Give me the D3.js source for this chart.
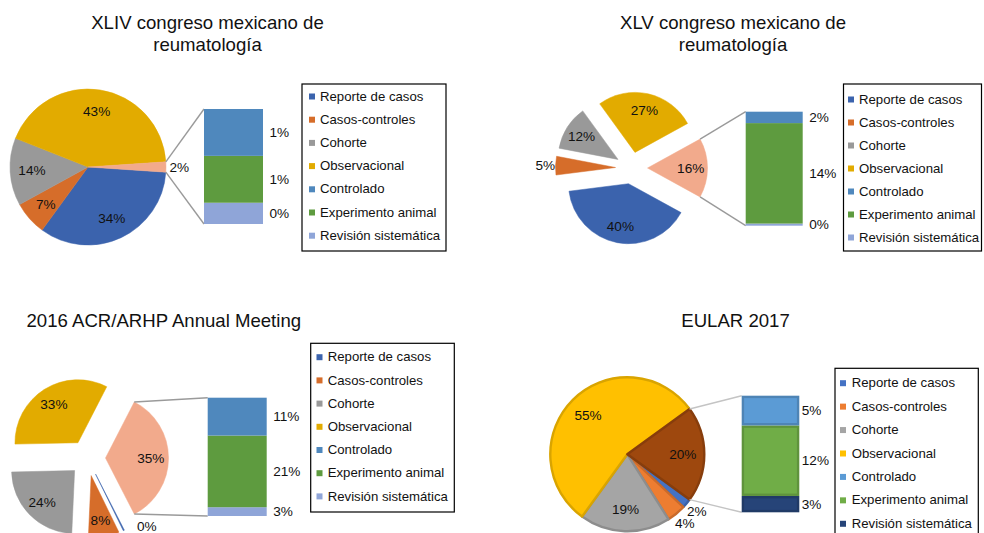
<!DOCTYPE html>
<html>
<head>
<meta charset="utf-8">
<script src="https://cdn.jsdelivr.net/npm/d3@7"></script>
<style>
  html, body { margin: 0; padding: 0; background: #fff; }
  svg { display: block; font-family: "Liberation Sans", Arial, Helvetica, sans-serif; }
</style>
</head>
<body>
<svg id="chart" width="984" height="533"></svg>
<script>
// ---------- DATA ----------
const pieCategories = ["Reporte de casos", "Casos-controles", "Cohorte", "Observacional"];
const barCategories = ["Controlado", "Experimento animal", "Revisión sistemática"];
const legendCategories = pieCategories.concat(barCategories);

const titles = [
  ["XLIV congreso mexicano de", "reumatología"],
  ["XLV congreso mexicano de", "reumatología"],
  ["2016 ACR/ARHP Annual Meeting"],
  ["EULAR 2017"]
];

// pie values (% of total), order = pieCategories
const pieValues1 = [34, 7, 14, 43];
const pieValues2 = [40, 5, 12, 27];
const pieValues3 = [0.3, 8, 24, 33];
const pieValues4 = [2, 4, 19, 55];

// "other" breakdown (% of total), order = barCategories
const barValues1 = [0.86, 0.86, 0.39];
const barValues2 = [1.6, 14.1, 0.3];
const barValues3 = [11.2, 21.2, 2.6];
const barValues4 = [5.1, 12.1, 2.8];

// ---------- STYLES ----------
const paletteA = ["#3B63AD", "#D66D2A", "#999999", "#E2AB00", "#4F88BD", "#5E9B3F", "#8FA5D8"];
const otherA = "#F2AA8C";
const paletteB = ["#4472C4", "#ED7D31", "#A5A5A5", "#FFC000", "#5B9BD5", "#70AD47", "#264478"];
const otherB = "#9E480E";

const charts = [
  { pie: pieValues1, bar: barValues1, title: titles[0], palette: paletteA, other: otherA, outline: false,
    cx: 88, cy: 167, r: 78, explode: 0,
    barBox: { x0: 204, x1: 263, top: 109, bottom: 224 },
    legend: { x: 302, y: 84, w: 144, h: 167, first: 96, step: 23.2, mx: 309, tx: 320 },
    titleX: 207.5, titleY: [29, 51], anchor: "middle", conn: "#9a9a9a" },
  { pie: pieValues2, bar: barValues2, title: titles[1], palette: paletteA, other: otherA, outline: false,
    cx: 631.5, cy: 168, r: 60, explode: 16,
    barBox: { x0: 745.7, x1: 802.7, top: 111.7, bottom: 225.7 },
    legend: { x: 843.5, y: 84, w: 138, h: 167, first: 99, step: 23, mx: 848, tx: 859 },
    titleX: 733, titleY: [29, 51], anchor: "middle", conn: "#9a9a9a" },
  { pie: pieValues3, bar: barValues3, title: titles[2], palette: paletteA, other: otherA, outline: false,
    cx: 87.5, cy: 458, r: 63, explode: 18,
    barBox: { x0: 207.7, x1: 266.7, top: 397.7, bottom: 516 },
    legend: { x: 310.7, y: 343.3, w: 143.6, h: 168.7, first: 356.7, step: 23.2, mx: 316.5, tx: 327.7 },
    titleX: 26.5, titleY: [327], anchor: "start", conn: "#9a9a9a" },
  { pie: pieValues4, bar: barValues4, title: titles[3], palette: paletteB, other: otherB, outline: true,
    cx: 627.3, cy: 454.3, r: 77, explode: 0,
    barBox: { x0: 741.7, x1: 799.3, top: 395.7, bottom: 512.3 },
    legend: { x: 835, y: 368.3, w: 143.3, h: 200, first: 382.7, step: 23.43, mx: 840, tx: 851.7 },
    titleX: 735.5, titleY: [327], anchor: "middle", conn: "#c4c4c4" }
];

const svg = d3.select("#chart");
const fontSize = 13.6;
const legendFont = 13.2;
const H = 533;

charts.forEach(c => {
  const g = svg.append("g");
  const otherTotal = d3.sum(c.bar);
  const slices = c.pie.map((v, i) => ({ name: pieCategories[i], value: v, color: c.palette[i] }));
  slices.push({ name: "Otros", value: otherTotal, color: c.other, isOther: true });
  const total = d3.sum(slices, d => d.value);
  const f = otherTotal / total;
  const start = Math.PI / 2 + f * Math.PI;

  const pie = d3.pie().sort(null).value(d => d.value).startAngle(start).endAngle(start + 2 * Math.PI);
  const arcs = pie(slices);
  const arc = d3.arc().innerRadius(0).outerRadius(c.r);

  const off = d => {
    const m = (d.startAngle + d.endAngle) / 2;
    return [Math.sin(m) * c.explode, -Math.cos(m) * c.explode];
  };

  // slices
  g.selectAll("path.slice").data(arcs).join("path")
    .attr("class", "slice")
    .attr("transform", d => { const o = off(d); return `translate(${c.cx + o[0]},${c.cy + o[1]})`; })
    .attr("d", arc)
    .attr("fill", d => d.data.color)
    .attr("stroke", d => c.outline ? d3.color(d.data.color).darker(0.45) : d.data.color)
    .attr("stroke-width", c.outline ? 2.4 : 0.5)
    .attr("stroke-linejoin", "round");

  // bar (stacked) with scales
  const b = c.barBox;
  const y = d3.scaleLinear().domain([0, otherTotal]).range([b.bottom, b.top]);
  let acc = 0;
  const segs = c.bar.map((v, i) => ({ name: barCategories[i], value: v, color: c.palette[4 + i] }))
    .reverse().map(s => { const s0 = acc; acc += s.value; return Object.assign(s, { y0: s0, y1: acc }); });

  // connector lines from other slice edges to bar corners
  const od = arcs[arcs.length - 1];
  const oo = off(od);
  const ax = c.cx + oo[0], ay = c.cy + oo[1];
  const pTop = [ax + Math.sin(od.startAngle) * c.r, ay - Math.cos(od.startAngle) * c.r];
  const pBot = [ax + Math.sin(od.endAngle) * c.r, ay - Math.cos(od.endAngle) * c.r];
  const upper = pTop[1] < pBot[1] ? pTop : pBot;
  const lower = pTop[1] < pBot[1] ? pBot : pTop;
  g.append("line").attr("x1", upper[0]).attr("y1", upper[1]).attr("x2", b.x0).attr("y2", y(otherTotal))
    .attr("stroke", c.conn).attr("stroke-width", 1.4);
  g.append("line").attr("x1", lower[0]).attr("y1", lower[1]).attr("x2", b.x0).attr("y2", y(0))
    .attr("stroke", c.conn).attr("stroke-width", 1.4);

  const inset = c.outline ? 1.2 : 0;
  g.selectAll("rect.seg").data(segs).join("rect")
    .attr("class", "seg")
    .attr("x", b.x0 + inset)
    .attr("width", b.x1 - b.x0 - 2 * inset)
    .attr("y", d => y(d.y1) + inset)
    .attr("height", d => Math.max(0.6, y(d.y0) - y(d.y1) - 2 * inset))
    .attr("fill", d => d.color)
    .attr("stroke", d => c.outline ? d3.color(d.color).darker(0.45) : "none")
    .attr("stroke-width", c.outline ? 2.4 : 0);

  g.selectAll("text.barlab").data(segs).join("text")
    .attr("class", "barlab")
    .attr("x", b.x1 + (c.outline ? 2.5 : 6.5))
    .attr("y", d => (y(d.y0) + y(d.y1)) / 2)
    .attr("dy", "0.35em")
    .attr("font-size", fontSize)
    .attr("fill", "#111")
    .text(d => Math.round(d.value) + "%");

  // pie labels
  const labelPos = d => {
    const m = (d.startAngle + d.endAngle) / 2;
    const outside = d.data.value < 6;
    const k = outside ? 1.17 : 0.72;
    let lx = c.cx + off(d)[0] + Math.sin(m) * c.r * k;
    let ly = c.cy + off(d)[1] - Math.cos(m) * c.r * k;
    if (ly > H - 7) { lx += (ly - (H - 7)) * 1.3; ly = H - 7; }
    return [lx, ly];
  };
  g.selectAll("text.pielab").data(arcs).join("text")
    .attr("class", "pielab")
    .attr("x", d => labelPos(d)[0])
    .attr("y", d => labelPos(d)[1])
    .attr("dy", "0.35em")
    .attr("text-anchor", "middle")
    .attr("font-size", fontSize)
    .attr("fill", "#111")
    .text(d => Math.round(d.data.value) + "%");

  // legend
  const L = c.legend;
  g.append("rect").attr("x", L.x).attr("y", L.y).attr("width", L.w).attr("height", L.h)
    .attr("fill", "#fff").attr("stroke", "#000").attr("stroke-width", 1.2);
  const items = g.selectAll("g.leg").data(legendCategories).join("g")
    .attr("class", "leg")
    .attr("transform", (d, i) => `translate(0,${L.first + i * L.step})`);
  items.append("rect").attr("x", L.mx).attr("y", -2.5).attr("width", 6).attr("height", 6)
    .attr("fill", (d, i) => c.palette[i]);
  items.append("text").attr("x", L.tx).attr("y", 0).attr("dy", "0.35em")
    .attr("font-size", legendFont).attr("fill", "#111").text(d => d);

  // title
  g.selectAll("text.title").data(c.title).join("text")
    .attr("class", "title")
    .attr("x", c.titleX)
    .attr("y", (d, i) => c.titleY[i])
    .attr("text-anchor", c.anchor)
    .attr("font-size", 18.6)
    .attr("fill", "#111")
    .text(d => d);
});
</script>
</body>
</html>
